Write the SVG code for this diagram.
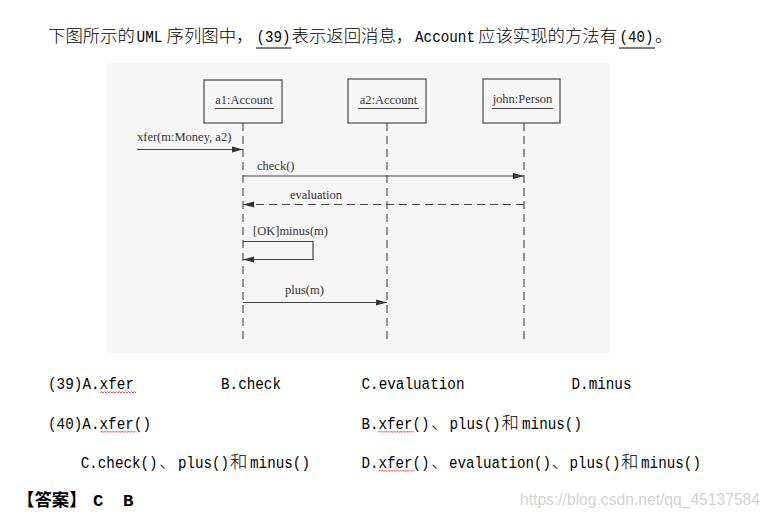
<svg xmlns="http://www.w3.org/2000/svg" xmlns:xlink="http://www.w3.org/1999/xlink" width="767" height="515" viewBox="0 0 767 515">
<style>
.cn{font-family:"Noto Sans CJK SC",sans-serif;font-size:17.4px;font-weight:300;fill:#000}
.en{font-family:"Liberation Mono","Noto Sans CJK SC",monospace;font-size:17.4px;fill:#000}
.b{font-weight:bold}
.ul{stroke:#000;stroke-width:1}
.dg{font-family:"Liberation Serif",serif;font-size:12.5px;fill:#333}
.box{fill:none;stroke:#555;stroke-width:1.3}
.life{stroke:#555;stroke-width:1.2;stroke-dasharray:8 5;fill:none}
.msg{stroke:#444;stroke-width:1.2;fill:none}
.ret{stroke:#444;stroke-width:1.2;fill:none;stroke-dasharray:8 5}
.wm{font-family:"Liberation Sans",sans-serif;font-size:16px;fill:#d2d2d2}
</style>
<defs>
<marker id="ah" viewBox="0 0 11 7" refX="11" refY="3.5" markerWidth="11" markerHeight="7" markerUnits="userSpaceOnUse" orient="auto"><path d="M0 0.5 L11 3.5 L0 6.5 Z" fill="#333"/></marker>
<path id="wv" d="M0 2 l1.5 -1.5 l1.5 1.5 l1.5 -1.5 l1.5 1.5 l1.5 -1.5 l1.5 1.5 l1.5 -1.5 l1.5 1.5 l1.5 -1.5 l1.5 1.5 l1.5 -1.5 l1.5 1.5 l1.5 -1.5 l1.5 1.5 l1.5 -1.5 l1.5 1.5 l1.5 -1.5 l1.5 1.5 l1.5 -1.5 l1.5 1.5 l1.5 -1.5 l1.5 1.5 l1.5 -1.5 l1.5 1.5" fill="none" stroke="#e03030" stroke-width="0.8"/>
</defs>
<rect width="767" height="515" fill="#fff"/>

<g id="question">
<text class="cn" x="48" y="41.5">下图所示的</text>
<text class="en" x="136.5" y="41.5" textLength="26" lengthAdjust="spacingAndGlyphs">UML</text>
<text class="cn" x="166.5" y="41.5">序列图中，</text>
<text class="en" x="256.5" y="41.5" textLength="34" lengthAdjust="spacingAndGlyphs">(39)</text>
<line class="ul" x1="256" y1="48" x2="291.5" y2="48"/>
<text class="cn" x="291.5" y="41.5">表示返回消息，</text>
<text class="en" x="415" y="41.5" textLength="60" lengthAdjust="spacingAndGlyphs">Account</text>
<text class="cn" x="478" y="41.5">应该实现的方法有</text>
<text class="en" x="619.5" y="41.5" textLength="34" lengthAdjust="spacingAndGlyphs">(40)</text>
<line class="ul" x1="619" y1="48" x2="655" y2="48"/>
<text class="cn" x="655" y="41.5">。</text>
</g>

<g id="diagram">
<rect x="107" y="63" width="503" height="290" fill="#f6f6f6"/>
<g id="a1">
<rect class="box" x="204" y="80" width="78" height="43"/>
<text class="dg" x="244" y="104" text-anchor="middle">a1:Account</text>
<line x1="215" y1="108.5" x2="274" y2="108.5" stroke="#444" stroke-width="1"/>
<line class="life" x1="243" y1="123" x2="243" y2="339"/>
</g>
<g id="a2">
<rect class="box" x="348" y="79" width="78" height="44"/>
<text class="dg" x="388.5" y="104" text-anchor="middle">a2:Account</text>
<line x1="358" y1="108.5" x2="419" y2="108.5" stroke="#444" stroke-width="1"/>
<line class="life" x1="387" y1="123" x2="387" y2="339"/>
</g>
<g id="john">
<rect class="box" x="483" y="79" width="77" height="44"/>
<text class="dg" x="522.5" y="103" text-anchor="middle">john:Person</text>
<line x1="492" y1="108.5" x2="553" y2="108.5" stroke="#444" stroke-width="1"/>
<line class="life" x1="524" y1="123" x2="524" y2="339"/>
</g>
<g id="connectors">
<line class="msg" x1="137" y1="149.5" x2="243" y2="149.5" marker-end="url(#ah)"/>
<text class="dg" x="137" y="140.5">xfer(m:Money, a2)</text>
<line class="msg" x1="243" y1="176" x2="524" y2="176" marker-end="url(#ah)"/>
<text class="dg" x="257" y="170">check()</text>
<line class="ret" x1="524" y1="204.5" x2="243" y2="204.5" marker-end="url(#ah)"/>
<text class="dg" x="290" y="198.5">evaluation</text>
<polyline class="msg" points="243,241.5 313,241.5 313,259.5 243,259.5" marker-end="url(#ah)"/>
<text class="dg" x="253" y="235">[OK]minus(m)</text>
<line class="msg" x1="243" y1="302.5" x2="387" y2="302.5" marker-end="url(#ah)"/>
<text class="dg" x="285" y="294">plus(m)</text>
</g>
</g>

<g id="options">
<text class="en" x="48" y="389" textLength="86" lengthAdjust="spacingAndGlyphs">(39)A.xfer</text>
<use xlink:href="#wv" x="100" y="391"/>
<text class="en" x="221" y="389" textLength="60" lengthAdjust="spacingAndGlyphs">B.check</text>
<text class="en" x="361.5" y="389" textLength="103" lengthAdjust="spacingAndGlyphs">C.evaluation</text>
<text class="en" x="571.5" y="389" textLength="60" lengthAdjust="spacingAndGlyphs">D.minus</text>

<text class="en" x="48" y="428.5" textLength="103" lengthAdjust="spacingAndGlyphs">(40)A.xfer()</text>
<use xlink:href="#wv" x="100" y="430.5"/>
<text class="en" x="361.5" y="428.5" textLength="68" lengthAdjust="spacingAndGlyphs">B.xfer()</text>
<use xlink:href="#wv" x="378" y="430.5"/>
<text class="cn" x="431" y="428.5">、</text>
<text class="en" x="449.5" y="428.5" textLength="51" lengthAdjust="spacingAndGlyphs">plus()</text>
<text class="cn" x="501.5" y="428.5">和</text>
<text class="en" x="522" y="428.5" textLength="60" lengthAdjust="spacingAndGlyphs">minus()</text>

<text class="en" x="80.7" y="467.5" textLength="77" lengthAdjust="spacingAndGlyphs">C.check()</text>
<text class="cn" x="159" y="467.5">、</text>
<text class="en" x="178" y="467.5" textLength="51" lengthAdjust="spacingAndGlyphs">plus()</text>
<text class="cn" x="230" y="467.5">和</text>
<text class="en" x="250" y="467.5" textLength="60" lengthAdjust="spacingAndGlyphs">minus()</text>

<text class="en" x="361.5" y="467.5" textLength="68" lengthAdjust="spacingAndGlyphs">D.xfer()</text>
<use xlink:href="#wv" x="378" y="469.5"/>
<text class="cn" x="431" y="467.5">、</text>
<text class="en" x="449" y="467.5" textLength="102" lengthAdjust="spacingAndGlyphs">evaluation()</text>
<text class="cn" x="551.5" y="467.5">、</text>
<text class="en" x="569.5" y="467.5" textLength="51" lengthAdjust="spacingAndGlyphs">plus()</text>
<text class="cn" x="621" y="467.5">和</text>
<text class="en" x="641" y="467.5" textLength="60" lengthAdjust="spacingAndGlyphs">minus()</text>
</g>

<g id="answer">
<text class="cn b" x="17" y="506">【答案】</text>
<text class="en b" x="93" y="506">C</text>
<text class="en b" x="123" y="506">B</text>
</g>
<text class="wm" x="520" y="505" textLength="240" lengthAdjust="spacingAndGlyphs">https://blog.csdn.net/qq_45137584</text>
</svg>
